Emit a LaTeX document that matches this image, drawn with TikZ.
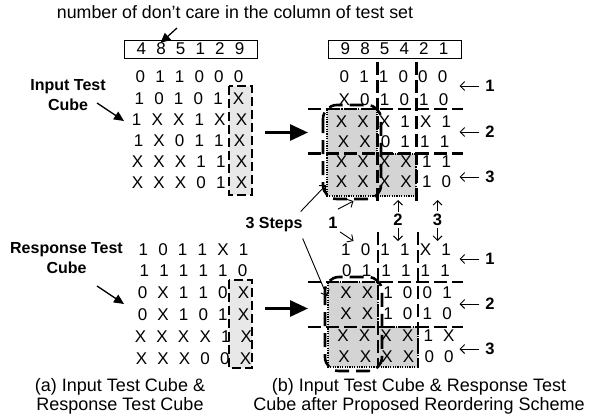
\documentclass[tikz,border=0pt]{standalone}
\usepackage{fontspec}
\setmainfont{Liberation Sans}
\usetikzlibrary{arrows.meta}

\definecolor{lightfill}{gray}{0.91}
\definecolor{darkfill}{gray}{0.83}

% one row of cube values, with wide gaps between the entries
\newcommand\cuberow[1]{{\spaceskip=10.2pt\relax#1}}

\begin{document}
\begin{tikzpicture}[x=1pt,y=-1pt,
  mat/.style={inner sep=0pt, font=\fontsize{17}{17}\selectfont},
  hdr/.style={mat, draw, line width=1pt, minimum width=133pt, minimum height=18pt},
  lbl/.style={inner sep=0pt, align=center, font=\bfseries\fontsize{16}{20}\selectfont},
  num/.style={inner sep=0pt, font=\bfseries\fontsize{16.5}{18}\selectfont},
  captext/.style={inner sep=0pt, align=center, font=\fontsize{18}{19.5}\selectfont},
  colbox/.style={draw, fill=lightfill, line width=2.4pt, dash pattern=on 9pt off 4pt},
  gridline/.style={line width=2.6pt, dash pattern=on 13pt off 5pt},
  groupline/.style={line width=2.6pt, dash pattern=on 14pt off 7pt, rounded corners=14pt},
  dotline/.style={line width=1.2pt, dash pattern=on 1.2pt off 1.2pt},
  bigarrow/.style={line width=3pt, -{Triangle[length=18pt,width=16pt]}},
  ptr/.style={line width=1.3pt, -{Triangle[length=10pt,width=9pt]}},
  thinptr/.style={line width=0.9pt, -{Straight Barb[length=4.5pt,width=9pt]}},
]
\useasboundingbox (0,0) rectangle (589,418);

% ---------- title and its pointer ----------
\node[inner sep=0pt, anchor=base, font=\fontsize{17.8}{18}\selectfont] (title) at (235,18.3)
  {number of don't care in the column of test set};
\coordinate (titleTail) at (177,28);
\coordinate (titleTip) at (160.5,43);
\draw[ptr] (titleTail) -- (titleTip);

% ---------- (a) input test cube ----------
\node[hdr] (hdrA) at (190.5,49) {\cuberow{4 8 5 1 2 9}};
\draw[colbox] (229,86) rectangle (252,195);
\node[mat] (ia1) at (189.5,76.5)  {\cuberow{0 1 1 0 0 0}};
\node[mat] (ia2) at (189.5,98.5)  {\cuberow{1 0 1 0 1 X}};
\node[mat] (ia3) at (189.5,120)   {\cuberow{1 X X 1 X X}};
\node[mat] (ia4) at (189.5,141)   {\cuberow{1 X 0 1 1 X}};
\node[mat] (ia5) at (189.5,161.5) {\cuberow{X X X 1 1 X}};
\node[mat] (ia6) at (189.5,182.5) {\cuberow{X X X 0 1 X}};

\node[lbl] (inLbl) at (68,95) {Input Test\\Cube};
\coordinate (inTail) at (97,103);
\coordinate (inTip) at (124,121);
\draw[ptr] (inTail) -- (inTip);

% ---------- (a) response test cube ----------
\draw[colbox] (229,280) rectangle (252,368);
\node[mat] (ra1) at (193.5,249.5) {\cuberow{1 0 1 1 X 1}};
\node[mat] (ra2) at (193.5,271)   {\cuberow{1 1 1 1 1 0}};
\node[mat] (ra3) at (193.5,293)   {\cuberow{0 X 1 1 0 X}};
\node[mat] (ra4) at (193.5,315)   {\cuberow{0 X 1 0 1 X}};
\node[mat] (ra5) at (193.5,337)   {\cuberow{X X X X 1 X}};
\node[mat] (ra6) at (193.5,358.5) {\cuberow{X X X 0 0 X}};

\node[lbl] (resLbl) at (66.5,258.5) {Response Test\\Cube};
\coordinate (resTail) at (97,286);
\coordinate (resTip) at (124,304);
\draw[ptr] (resTail) -- (resTip);

% ---------- transformation arrows ----------
\coordinate (upFrom) at (265,132.5);
\coordinate (upTo) at (308,132.5);
\draw[bigarrow] (upFrom) -- (upTo);
\coordinate (loFrom) at (265,308.5);
\coordinate (loTo) at (308,308.5);
\draw[bigarrow] (loFrom) -- (loTo);

% ---------- (b) reordered input cube ----------
\fill[darkfill] (327,109) -- (377,109) -- (377,154) -- (416,154) -- (416,196) -- (327,196) -- cycle;
\node[hdr] (hdrB) at (394.5,49) {\cuberow{9 8 5 4 2 1}};
\node[mat] (ib1) at (393.5,77)    {\cuberow{0 1 1 0 0 0}};
\node[mat] (ib2) at (393.5,99.5)  {\cuberow{X 0 1 0 1 0}};
\node[mat] (ib3) at (393.5,121.5) {\cuberow{X X X 1 X 1}};
\node[mat] (ib4) at (393.5,142)   {\cuberow{X X 0 1 1 1}};
\node[mat] (ib5) at (393.5,162)   {\cuberow{X X X X 1 1}};
\node[mat] (ib6) at (393.5,182)   {\cuberow{X X X X 1 0}};
\draw[dotline] (327,109) -- (377,109) -- (377,154) -- (416,154) -- (416,196) -- (327,196) -- cycle;
\draw[gridline] (377.5,62) -- (377.5,203);
\draw[gridline] (416.5,62) -- (416.5,203);
\draw[gridline] (308,109) -- (463,109);
\draw[gridline] (308,153.5) -- (463,153.5);
\draw[groupline] (323,105) rectangle (381,199);

% ---------- (b) reordered response cube ----------
\fill[darkfill] (328,282) -- (378,282) -- (378,327) -- (418,327) -- (418,367) -- (328,367) -- cycle;
\node[mat] (rb1) at (396,250)   {\cuberow{1 0 1 1 X 1}};
\node[mat] (rb2) at (396,271)   {\cuberow{0 1 1 1 1 1}};
\node[mat] (rb3) at (396,292.5) {\cuberow{X X 1 0 0 1}};
\node[mat] (rb4) at (396,314)   {\cuberow{X X 1 0 1 0}};
\node[mat] (rb5) at (396,336)   {\cuberow{X X X X 1 X}};
\node[mat] (rb6) at (396,357)   {\cuberow{X X X X 0 0}};
\draw[dotline] (328,282) -- (378,282) -- (378,327) -- (418,327) -- (418,367) -- (328,367) -- cycle;
\draw[gridline] (378,232) -- (378,368);
\draw[gridline] (418,232) -- (418,368);
\draw[gridline] (308,282) -- (463,282);
\draw[gridline] (308,327) -- (463,327);
\draw[groupline] (325,277) rectangle (382,371);

% ---------- row group markers ----------
\foreach \k/\yy in {1/86, 2/132, 3/177, 4/259, 5/304, 6/349} {
  \pgfmathtruncatemacro{\lab}{mod(\k-1,3)+1}
  \node[num] (grp\k) at (490,\yy) {\lab};
  \coordinate (grpTip\k) at (459.5,\yy);
  \draw[thinptr, shorten <=6pt] (grp\k.west) -- (grpTip\k);
}

% ---------- step markers between the cubes ----------
\node[num] (stepOne) at (333,223) {1};
\coordinate (stepOneUp) at (353.5,201);
\coordinate (stepOneDown) at (353.5,241);
\draw[thinptr] ([xshift=5pt,yshift=8pt]stepOne.north) -- (stepOneUp);
\draw[thinptr] ([xshift=7pt,yshift=-3pt]stepOne.south) -- (stepOneDown);

\node[num] (stepTwo) at (398,219.5) {2};
\coordinate (stepTwoUp) at (398,200);
\coordinate (stepTwoDown) at (398,241);
\draw[thinptr, shorten <=2pt] (stepTwo.north) -- (stepTwoUp);
\draw[thinptr, shorten <=2.5pt] (stepTwo.south) -- (stepTwoDown);

\node[num] (stepThree) at (437.5,219.5) {3};
\coordinate (stepThreeUp) at (437.5,200);
\coordinate (stepThreeDown) at (437.5,241);
\draw[thinptr, shorten <=2pt] (stepThree.north) -- (stepThreeUp);
\draw[thinptr, shorten <=2.5pt] (stepThree.south) -- (stepThreeDown);

\node[lbl] (steps) at (274,225) {3 Steps};
\coordinate (stepsUpTip) at (326,185);
\coordinate (stepsDownTip) at (327,296);
\draw[thinptr] ([xshift=-2pt,yshift=6pt]steps.north east) -- (stepsUpTip);
\draw[thinptr] ([xshift=0pt,yshift=-6pt]steps.south east) -- (stepsDownTip);

% ---------- captions ----------
\node[captext] (capA) at (120,396.5) {(a) Input Test Cube \&\\Response Test Cube};
\node[captext] (capB) at (419,396.5) {(b) Input Test Cube \& Response Test\\Cube after Proposed Reordering Scheme};
\end{tikzpicture}
\end{document}
